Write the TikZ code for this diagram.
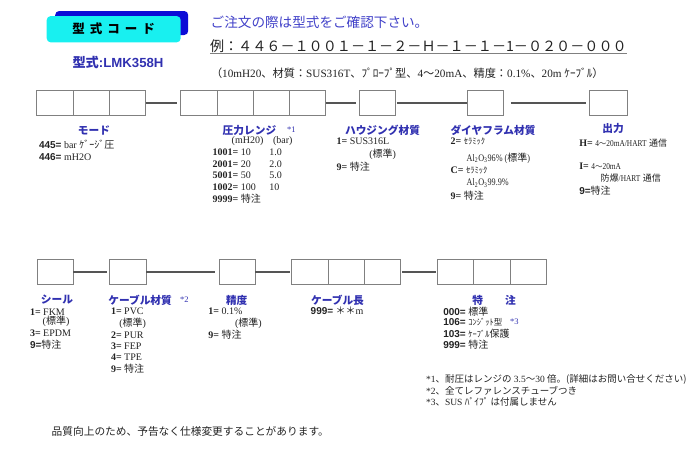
\documentclass[tikz,border=0pt]{standalone}
\usepackage{fontspec}
\setmainfont{Liberation Serif}
\setsansfont{Liberation Sans}
\newfontfamily\jpfont{Noto Sans CJK JP}
\newfontfamily\condfont{Liberation Serif}[FakeStretch=0.82]
\newcommand{\jp}[1]{{\jpfont#1}}
\usetikzlibrary{positioning}
\definecolor{capblue}{RGB}{48,48,176}
\definecolor{noteblue}{RGB}{64,64,200}
\definecolor{tagcyan}{RGB}{24,240,240}
\definecolor{tagshade}{RGB}{12,12,214}
\definecolor{cellgray}{RGB}{128,128,128}
\definecolor{linkgray}{RGB}{85,85,85}
\definecolor{inkgray}{RGB}{34,34,34}

\begin{document}
\begin{tikzpicture}[x=1pt,y=1pt]
    \tikzstyle{every node}=[inner sep=0,outer sep=0,text=inkgray]
    \tikzstyle{cell}=[draw=cellgray,line width=0.9,minimum width=36.3,minimum height=24.5]
    \tikzstyle{link}=[draw=linkgray,line width=1.6]
    \tikzstyle{heading}=[text=capblue,font=\jpfont\bfseries\fontsize{10.7}{11}\selectfont]
    \tikzstyle{item}=[anchor=west,font=\fontsize{10}{10}\selectfont]
    \tikzstyle{foot}=[anchor=west,font=\fontsize{9.5}{9.5}\selectfont]
    \tikzstyle{star}=[anchor=west,text=capblue,font=\fontsize{8.5}{9}\selectfont]

    \useasboundingbox (0,0) rectangle (696,-450);

    % title tag
    \node[fill=tagshade,rounded corners=4,minimum width=133,minimum height=24] (shade) at (121.7,-23) {};
    \node[fill=tagcyan,rounded corners=4,minimum width=134,minimum height=26.3] (tag) at (113.7,-29.2) {};
    \node[text=black,font=\jpfont\bfseries\fontsize{12.5}{12.5}\selectfont] (tagtext) at (tag)
        {型\hspace{5pt}式\hspace{5pt}コ\hspace{5pt}ー\hspace{5pt}ド};
    \node[text=capblue,font=\sffamily\bfseries\fontsize{13.2}{13.2}\selectfont] (model) at (118,-62) {\jp{型式}:LMK358H};

    % ordering notes
    \node[anchor=west,text=noteblue,font=\jpfont\fontsize{13.6}{14}\selectfont] (notice) at (210.7,-22)
        {ご注文の際は型式をご確認下さい。};
    \node[anchor=west,font=\jpfont\fontsize{14.1}{14.1}\selectfont] (sample) at (210,-46)
        {例：４４６－１００１－１－２－Ｈ－１－１－1－０２０－０００};
    \draw[gray,line width=0.9] ([yshift=-0.8]sample.south west) -- ([yshift=-0.8]sample.south east);
    \node[anchor=west,font=\fontsize{11.2}{11.2}\selectfont] (spec) at (211,-73)
        {\jp{（}10mH20\jp{、材質：}SUS316T\jp{、ﾌﾟﾛｰﾌﾟ型、}4\jp{～}20mA\jp{、精度：}0.1\%\jp{、}20m \jp{ｹｰﾌﾞﾙ）}};

    % first row of code boxes
    \node[cell] (mode1) at (54.9,-103) {};
    \node[cell,right=0pt of mode1] (mode2) {};
    \node[cell,right=0pt of mode2] (mode3) {};
    \node[cell] (range1) at (198.8,-103) {};
    \node[cell,right=0pt of range1] (range2) {};
    \node[cell,right=0pt of range2] (range3) {};
    \node[cell,right=0pt of range3] (range4) {};
    \node[cell] (house1) at (377.5,-103) {};
    \node[cell] (dia1) at (485.3,-103) {};
    \node[cell,minimum width=38.4] (out1) at (608.5,-103) {};

    \draw[link,shorten >=3.3] (mode3) -- (range1);
    \draw[link,shorten >=3.3] (range4) -- (house1);
    \draw[link,shorten <=1.3] (house1) -- (dia1);
    \draw[link,shorten <=7.3,shorten >=3.6] (dia1) -- (out1);

    % mode
    \node[heading] (modehd) at (94,-130) {モード};
    \node[item] (mode445) at (39,-144.3) {\textsf{\textbf{445=}} bar \jp{ｹﾞｰｼﾞ圧}};
    \node[item] (mode446) at (39,-157.3) {\textsf{\textbf{446=}} mH2O};

    % pressure range
    \node[heading,anchor=west] (rangehd) at (222.7,-130) {圧力レンジ};
    \node[star] (rangestar) at (287,-130) {*1};
    \node[item] (unitm) at (231.7,-140.7) {(mH20)};
    \node[item] (unitbar) at (273,-140.7) {(bar)};
    \node[item] (r1001) at (212.7,-152.7) {\textbf{1001=} 10};
    \node[item] (b1001) at (269.3,-152.7) {1.0};
    \node[item] (r2001) at (212.7,-164.2) {\textbf{2001=} 20};
    \node[item] (b2001) at (269.3,-164.2) {2.0};
    \node[item] (r5001) at (212.7,-175.7) {\textbf{5001=} 50};
    \node[item] (b5001) at (269.3,-175.7) {5.0};
    \node[item] (r1002) at (212.7,-187.2) {\textbf{1002=} 100};
    \node[item] (b1002) at (269.3,-187.2) {10};
    \node[item] (r9999) at (212.7,-198.7) {\textbf{9999=} \jp{特注}};

    % housing
    \node[heading] (househd) at (382.5,-130) {ハウジング材質};
    \node[item] (house1l) at (336.7,-141.7) {\textbf{1=} SUS316L};
    \node[item] (housestd) at (369.3,-154) {(\jp{標準})};
    \node[item] (house9) at (336.7,-166.7) {\textbf{9=} \jp{特注}};

    % diaphragm
    \node[heading] (diahd) at (493,-130) {ダイヤフラム材質};
    \node[item] (dia2) at (450.7,-141.7) {\textbf{2=} \jp{\fontsize{8.5}{9}\selectfont ｾﾗﾐｯｸ}};
    \node[item] (dia2a) at (466.7,-158.3) {\condfont Al\textsubscript{2}O\textsubscript{3}96\% (\jp{標準})};
    \node[item] (diac) at (450.7,-170) {\textbf{C=} \jp{\fontsize{8.5}{9}\selectfont ｾﾗﾐｯｸ}};
    \node[item] (diaca) at (466.7,-183.3) {\condfont Al\textsubscript{2}O\textsubscript{3}99.9\%};
    \node[item] (dia9) at (450.7,-196) {\textbf{9=} \jp{特注}};

    % output
    \node[heading] (outhd) at (613,-128.5) {出力};
    \node[item] (outh) at (579.3,-143.3) {\textbf{H=} {\condfont\fontsize{9}{9}\selectfont 4\jp{\fontsize{7.5}{8}\selectfont ～}20mA/HART} \jp{\fontsize{9}{9}\selectfont 通信}};
    \node[item] (outi) at (579.3,-166.7) {\textbf{I=} {\condfont\fontsize{9}{9}\selectfont 4\jp{\fontsize{7.5}{8}\selectfont ～}20mA}};
    \node[item] (outix) at (600.7,-178.3) {\jp{\fontsize{9}{9}\selectfont 防爆}{\condfont\fontsize{9}{9}\selectfont /HART} \jp{\fontsize{9}{9}\selectfont 通信}};
    \node[item] (out9) at (579.3,-191) {\textsf{\textbf{9=}}\jp{特注}};

    % second row of code boxes
    \node[cell] (seal1) at (55.3,-272) {};
    \node[cell] (cable1) at (128,-272) {};
    \node[cell] (acc1) at (237.3,-272) {};
    \node[cell] (len1) at (310,-272) {};
    \node[cell,right=0pt of len1] (len2) {};
    \node[cell,right=0pt of len2] (len3) {};
    \node[cell] (opt1) at (455.5,-272) {};
    \node[cell,right=0pt of opt1] (opt2) {};
    \node[cell,right=0pt of opt2] (opt3) {};

    \draw[link,shorten >=2.6] (seal1) -- (cable1);
    \draw[link,shorten >=4] (cable1) -- (acc1);
    \draw[link,shorten >=1.8] (acc1) -- (len1);
    \draw[link,shorten <=1.7,shorten >=1.6] (len3) -- (opt1);

    % seal
    \node[heading] (sealhd) at (57,-300) {シール};
    \node[item] (seal1t) at (30,-311.7) {\textbf{1=} FKM};
    \node[item] (sealstd) at (42.7,-321.7) {(\jp{標準})};
    \node[item] (seal3) at (30,-333.3) {\textbf{3=} EPDM};
    \node[item] (seal9) at (30,-345) {\textsf{\textbf{9=}}\jp{特注}};

    % cable material
    \node[heading,anchor=west] (cablehd) at (108.3,-300) {ケーブル材質};
    \node[star] (cablestar) at (180,-300) {*2};
    \node[item] (cablepvc) at (111,-311.7) {\textbf{1=} PVC};
    \node[item] (cablestd) at (119.3,-323) {(\jp{標準})};
    \node[item] (cablepur) at (111,-335) {\textbf{2=} PUR};
    \node[item] (cablefep) at (111,-346.5) {\textbf{3=} FEP};
    \node[item] (cabletpe) at (111,-357.5) {\textbf{4=} TPE};
    \node[item] (cable9) at (111,-368.5) {\textbf{9=} \jp{特注}};

    % accuracy
    \node[heading] (acchd) at (236.7,-300) {精度};
    \node[item] (acc1t) at (208.3,-311.7) {\textbf{1=} 0.1\%};
    \node[item] (accstd) at (235,-323.3) {(\jp{標準})};
    \node[item] (acc9) at (208.3,-335) {\textbf{9=} \jp{特注}};

    % cable length
    \node[heading] (lenhd) at (337.5,-300) {ケーブル長};
    \node[item] (len999) at (310.7,-311) {\textsf{\textbf{999=}} \jp{＊＊}m};

    % options
    \node[heading] (opthd) at (494,-300) {特\hspace{22pt}注};
    \node[item] (opt000) at (443.3,-311.7) {\textsf{\textbf{000=}} \jp{標準}};
    \node[item] (opt106) at (443.3,-322) {\textsf{\textbf{106=}} \jp{\fontsize{8.5}{9}\selectfont ｺﾝｼﾞｯﾄ型}};
    \node[star] (optstar) at (510,-322) {*3};
    \node[item] (opt103) at (443.3,-333.3) {\textsf{\textbf{103=}} \jp{\fontsize{8.5}{9}\selectfont ｹｰﾌﾞﾙ}\jp{保護}};
    \node[item] (opt999) at (443.3,-344.3) {\textsf{\textbf{999=}} \jp{特注}};

    % footnotes
    \node[foot] (note1) at (426,-379) {*1\jp{、耐圧はレンジの} 3.5\jp{～}30 \jp{倍。(詳細はお問い合せください)}};
    \node[foot] (note2) at (426,-390.3) {*2\jp{、全てレファレンスチューブつき}};
    \node[foot] (note3) at (426,-401.7) {*3\jp{、}SUS \jp{ﾊﾟｲﾌﾟ は付属しません}};
    \node[anchor=west,font=\jpfont\fontsize{10.7}{11}\selectfont] (remark) at (51.7,-431.7)
        {品質向上のため、予告なく仕様変更することがあります。};
\end{tikzpicture}
\end{document}
